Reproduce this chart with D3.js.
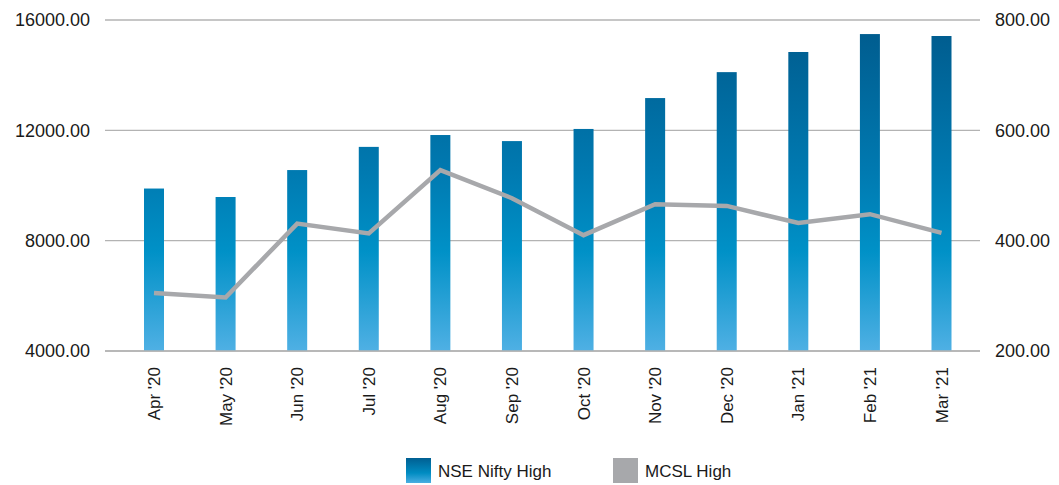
<!DOCTYPE html>
<html><head><meta charset="utf-8">
<script src="https://cdn.jsdelivr.net/npm/d3@7"></script>
<style>body{margin:0;background:#fff;} svg{display:block;font-family:"Liberation Sans",Arial,Helvetica,sans-serif;}</style>
</head><body>
<svg id="c" width="1059" height="485"></svg>
<script>
const categories = ["Apr '20","May '20","Jun '20","Jul '20","Aug '20","Sep '20","Oct '20","Nov '20","Dec '20","Jan '21","Feb '21","Mar '21"];
const niftyHigh = [9890, 9583, 10560, 11400, 11830, 11610, 12050, 13170, 14110, 14840, 15490, 15420];
const mcslHigh = [305, 297, 431, 413, 528, 477, 410, 466, 463, 432, 448, 414];
const leftTicks = [4000, 8000, 12000, 16000];
const rightTicks = [200, 400, 600, 800];
const seriesNames = ["NSE Nifty High", "MCSL High"];

(function(){
const svg = d3.select("#c");
const plotL = 105, plotR = 980, plotTop = 20, plotBottom = 351;

const x = d3.scalePoint().domain(categories).range([154, 941.5]);
const yL = d3.scaleLinear().domain([4000, 16000]).range([plotBottom, plotTop]);
const yR = d3.scaleLinear().domain([200, 800]).range([plotBottom, plotTop]);

const defs = svg.append("defs");
const g1 = defs.append("linearGradient").attr("id","barGrad").attr("gradientUnits","userSpaceOnUse")
  .attr("x1",0).attr("x2",0).attr("y1",plotTop).attr("y2",plotBottom);
[[0,"#005a8c"],[0.45,"#0079b0"],[0.7,"#0091c7"],[1,"#4fb0e4"]].forEach(s=>g1.append("stop").attr("offset",s[0]).attr("stop-color",s[1]));
const g2 = defs.append("linearGradient").attr("id","legGrad").attr("x1",0).attr("x2",0).attr("y1",0).attr("y2",1);
[[0,"#005f92"],[0.6,"#008cc2"],[1,"#4aaee2"]].forEach(s=>g2.append("stop").attr("offset",s[0]).attr("stop-color",s[1]));

svg.append("g").selectAll("line").data(leftTicks).join("line")
  .attr("x1",plotL).attr("x2",plotR).attr("y1",d=>yL(d)).attr("y2",d=>yL(d))
  .attr("stroke","#b3b3b3").attr("stroke-width",1.3);

svg.append("g").selectAll("text").data(leftTicks).join("text")
  .attr("x",90).attr("y",d=>yL(d)).attr("dy","0.36em").attr("text-anchor","end")
  .attr("font-size",18).attr("fill","#1a1a1a").text(d=>d3.format(".2f")(d));
svg.append("g").selectAll("text").data(rightTicks).join("text")
  .attr("x",995).attr("y",d=>yR(d)).attr("dy","0.36em").attr("text-anchor","start")
  .attr("font-size",18).attr("fill","#1a1a1a").text(d=>d3.format(".2f")(d));

const bw = 20;
svg.append("g").selectAll("rect").data(niftyHigh).join("rect")
  .attr("x",(d,i)=>x(categories[i])-bw/2).attr("width",bw)
  .attr("y",d=>yL(d)).attr("height",d=>plotBottom-yL(d))
  .attr("fill","url(#barGrad)");

svg.append("line").attr("x1",plotL).attr("x2",plotR).attr("y1",plotBottom).attr("y2",plotBottom)
  .attr("stroke","#b3b3b3").attr("stroke-width",1.3);

const line = d3.line().x((d,i)=>x(categories[i])).y(d=>yR(d));
svg.append("path").datum(mcslHigh).attr("d",line).attr("fill","none")
  .attr("stroke","#a7a8ab").attr("stroke-width",4.5).attr("stroke-linejoin","miter");

svg.append("g").selectAll("text").data(categories).join("text")
  .attr("transform",d=>`translate(${x(d)+6},367) rotate(-90)`)
  .attr("text-anchor","end").attr("font-size",17).attr("fill","#1a1a1a").text(d=>d);

const leg = svg.append("g");
leg.append("rect").attr("x",406).attr("y",458).attr("width",25).attr("height",25).attr("fill","url(#legGrad)");
leg.append("text").attr("x",438).attr("y",477).attr("font-size",17).attr("fill","#1a1a1a").text(seriesNames[0]);
leg.append("rect").attr("x",613).attr("y",458).attr("width",25).attr("height",25).attr("fill","#a7a8ab");
leg.append("text").attr("x",645).attr("y",477).attr("font-size",17).attr("fill","#1a1a1a").text(seriesNames[1]);
})();
</script>
</body></html>
